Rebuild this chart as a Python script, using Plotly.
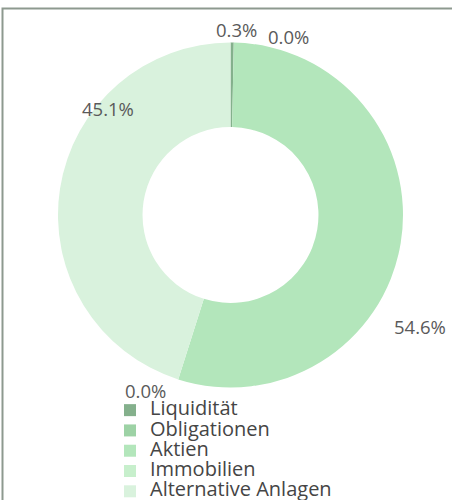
import plotly.graph_objects as go

categories = ["Liquidität", "Obligationen", "Aktien", "Immobilien", "Alternative Anlagen"]
values = [0.3, 0.0, 54.6, 0.0, 45.1]
colors = ["#84b08c", "#9dd2a5", "#b3e6bb", "#c7efcc", "#d9f2dd"]

# label placement (screen pixels, centre of text) – layout only
label_pos = [(236, 29), (288, 37), (420, 326), (145, 390), (108, 108)]

W, H = 452, 520


def px_x(p):
    return p / W


def px_y(p):
    return 1 - p / H


legend_labels = [f'<span style="font-size:20px">{c}</span>' for c in categories]

fig = go.Figure(
    go.Pie(
        labels=legend_labels,
        values=values,
        marker=dict(colors=colors, line=dict(width=0)),
        hole=0.51,
        sort=False,
        direction="clockwise",
        rotation=0,
        textinfo="none",
        domain=dict(x=[px_x(58), px_x(403)], y=[px_y(387.5), px_y(42.5)]),
        hovertext=categories,
        hoverinfo="text+percent",
    )
)

annotations = []
for v, (lx, ly) in zip(values, label_pos):
    annotations.append(
        dict(
            text=f"{v:.1f}%",
            x=px_x(lx),
            y=px_y(ly),
            xref="paper",
            yref="paper",
            xanchor="center",
            yanchor="middle",
            showarrow=False,
            font=dict(family="Open Sans", size=18.5, color="#5a5a5a"),
        )
    )

fig.update_layout(
    width=W,
    height=H,
    margin=dict(l=0, r=0, t=0, b=0, autoexpand=False),
    paper_bgcolor="white",
    plot_bgcolor="white",
    showlegend=True,
    legend=dict(
        x=px_x(110),
        y=px_y(395),
        xanchor="left",
        yanchor="top",
        font=dict(family="Open Sans", size=13.3, color="#454545"),
        bgcolor="rgba(0,0,0,0)",
    ),
    annotations=annotations,
    shapes=[
        dict(
            type="rect",
            xref="paper",
            yref="paper",
            x0=px_x(2.5),
            x1=1.2,
            y0=-0.2,
            y1=px_y(8.5),
            line=dict(color="#8d998f", width=2),
            fillcolor="rgba(0,0,0,0)",
            layer="below",
        )
    ],
)

fig.write_html(
    "out.html",
    config={"displayModeBar": False},
    post_script=(
        "document.documentElement.style.overflow='hidden';"
        "document.body.style.margin='0';"
        "document.body.style.overflow='hidden';"
    ),
)
